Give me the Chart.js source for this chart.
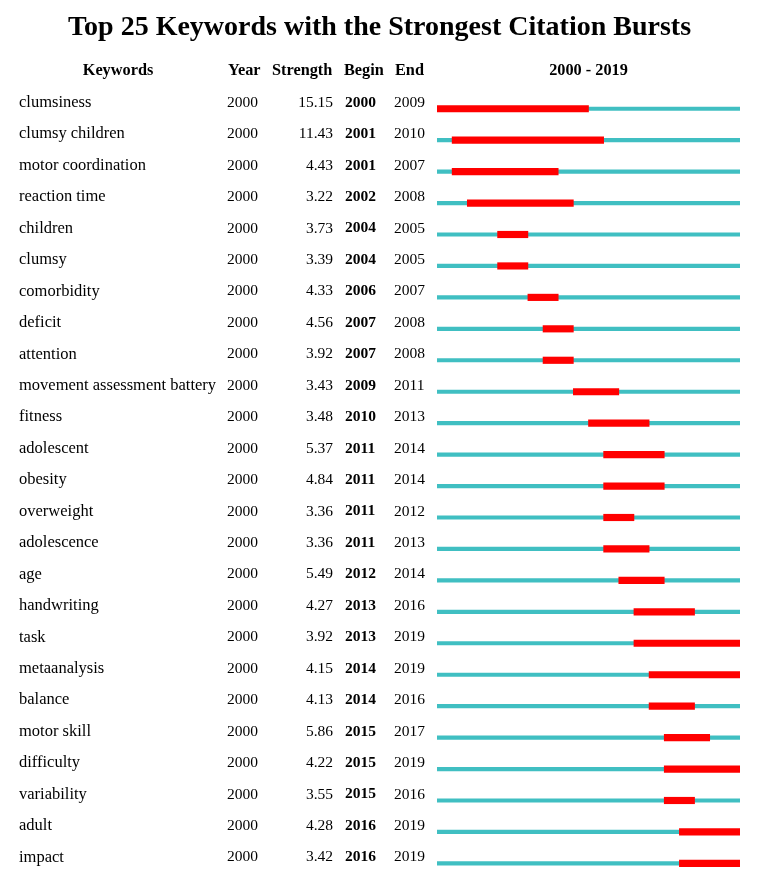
<!DOCTYPE html>
<html>
<head>
<meta charset="utf-8">
<script src="https://cdn.jsdelivr.net/npm/chart.js@4.4.1/dist/chart.umd.min.js"></script>
<style>
  body { margin: 0; background: #fff; }
  canvas { display: block; }
</style>
</head>
<body>
<canvas id="burstChart" width="765" height="892"></canvas>
<script>
const keywords = ['clumsiness', 'clumsy children', 'motor coordination', 'reaction time', 'children', 'clumsy',
    'comorbidity', 'deficit', 'attention', 'movement assessment battery', 'fitness', 'adolescent', 'obesity',
    'overweight', 'adolescence', 'age', 'handwriting', 'task', 'metaanalysis', 'balance', 'motor skill',
    'difficulty', 'variability', 'adult', 'impact'];
const years = [2000, 2000, 2000, 2000, 2000, 2000, 2000, 2000, 2000, 2000, 2000, 2000, 2000,
    2000, 2000, 2000, 2000, 2000, 2000, 2000, 2000, 2000, 2000, 2000, 2000];
const strengths = [15.15, 11.43, 4.43, 3.22, 3.73, 3.39, 4.33, 4.56, 3.92, 3.43, 3.48, 5.37, 4.84,
    3.36, 3.36, 5.49, 4.27, 3.92, 4.15, 4.13, 5.86, 4.22, 3.55, 4.28, 3.42];
const begins = [2000, 2001, 2001, 2002, 2004, 2004, 2006, 2007, 2007, 2009, 2010, 2011, 2011,
    2011, 2011, 2012, 2013, 2013, 2014, 2014, 2015, 2015, 2015, 2016, 2016];
const ends = [2009, 2010, 2007, 2008, 2005, 2005, 2007, 2008, 2008, 2011, 2013, 2014, 2014,
    2012, 2013, 2014, 2016, 2019, 2019, 2016, 2017, 2019, 2016, 2019, 2019];
const firstYear = 2000;
const lastYear = 2019;

const serif = '"Liberation Serif", "Times New Roman", serif';

// a burst covers whole years, so it runs to the end of its last year
const burstBars = begins.map((b, i) => [b, ends[i] + 1]);
const spanBars = keywords.map(() => [firstYear, lastYear + 1]);

const tablePlugin = {
    id: 'tableColumns',
    afterDraw(chart) {
        const c = chart.ctx;
        const y = chart.scales.y;
        const area = chart.chartArea;
        c.save();
        c.fillStyle = '#000';
        c.textBaseline = 'middle';
        c.font = 'bold 16.3px ' + serif;
        const hy = 71;
        c.textAlign = 'center';
        c.fillText('Keywords', 118, hy);
        c.textAlign = 'left';
        c.fillText('Year', 228, hy);
        c.fillText('Strength', 272, hy);
        c.fillText('Begin', 344, hy);
        c.fillText('End', 395, hy);
        c.textAlign = 'center';
        c.fillText(firstYear + ' - ' + lastYear, (area.left + area.right) / 2, hy);

        keywords.forEach((k, i) => {
            const py = y.getPixelForValue(i) - 6;
            c.font = '15.5px ' + serif;
            c.textAlign = 'left';
            c.fillText(String(years[i]), 227, py);
            c.textAlign = 'right';
            c.fillText(strengths[i].toFixed(2), 333, py);
            c.textAlign = 'left';
            c.font = 'bold 15.5px ' + serif;
            c.fillText(String(begins[i]), 345, py);
            c.font = '15.5px ' + serif;
            c.fillText(String(ends[i]), 394, py);
        });
        c.restore();
    }
};

const ctx = document.getElementById('burstChart').getContext('2d');
const burstChart = new Chart(ctx, {
    type: 'bar',
    data: {
        labels: keywords,
        datasets: [{
            label: 'Burst',
            data: burstBars,
            backgroundColor: '#ff0000',
            barThickness: 6.5,
            borderSkipped: false
        }, {
            label: 'Period',
            data: spanBars,
            backgroundColor: '#40bfc2',
            barThickness: 3.5,
            borderSkipped: false
        }]
    },
    options: {
        indexAxis: 'y',
        responsive: false,
        animation: false,
        layout: { padding: { left: 19, right: 25, top: 0, bottom: 7 } },
        plugins: {
            legend: { display: false },
            tooltip: { enabled: false },
            title: {
                display: true,
                text: 'Top 25 Keywords with the Strongest Citation Bursts',
                color: '#000',
                font: { family: serif, size: 28, weight: 'bold' },
                padding: { top: 11, bottom: 48.4 }
            }
        },
        scales: {
            x: {
                display: false,
                min: firstYear,
                max: lastYear + 1
            },
            y: {
                stacked: true,
                grid: { display: false },
                border: { display: false },
                afterFit(scale) { scale.width = 418; },
                ticks: {
                    crossAlign: 'far',
                    labelOffset: -6,
                    color: '#000',
                    font: { family: serif, size: 16.5 }
                }
            }
        }
    },
    plugins: [tablePlugin]
});
</script>
</body>
</html>
